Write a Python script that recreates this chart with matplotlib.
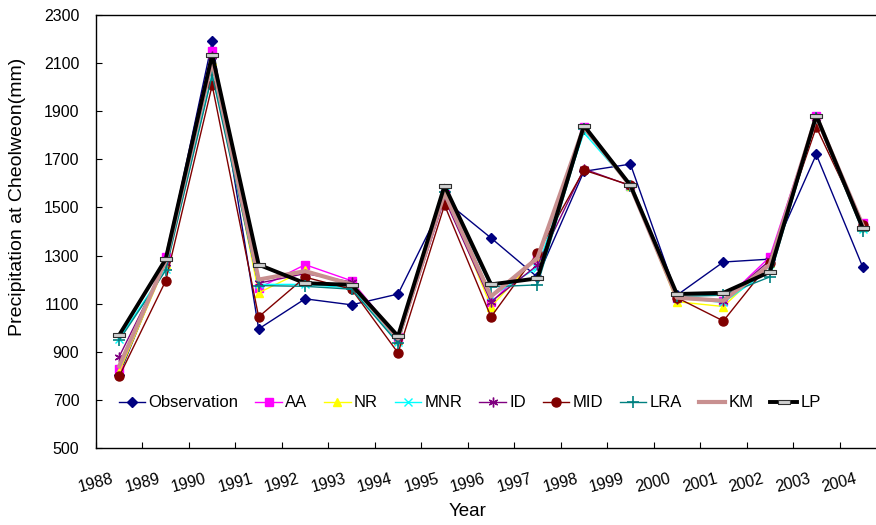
import numpy as np
import matplotlib
matplotlib.use("Agg")
import matplotlib.pyplot as plt

plt.rcParams['font.family'] = ['Liberation Sans', 'DejaVu Sans']

years = ["1988", "1989", "1990", "1991", "1992", "1993", "1994", "1995", "1996",
         "1997", "1998", "1999", "2000", "2001", "2002", "2003", "2004"]

observation = [805, 1280, 2190, 995, 1120, 1095, 1140, 1530, 1373, 1210, 1650, 1680, 1135, 1273, 1285, 1720, 1252]
aa = [830, 1295, 2150, 1165, 1262, 1195, 960, 1555, 1105, 1290, 1835, 1590, 1125, 1110, 1294, 1882, 1435]
nr = [815, 1265, 2110, 1145, 1240, 1175, 950, 1560, 1088, 1295, 1830, 1588, 1108, 1088, 1270, 1875, 1420]
mnr = [955, 1245, 2060, 1180, 1180, 1165, 940, 1565, 1130, 1250, 1810, 1590, 1125, 1105, 1240, 1870, 1410]
id_ = [880, 1270, 2130, 1185, 1225, 1190, 945, 1535, 1108, 1260, 1660, 1590, 1120, 1112, 1280, 1870, 1420]
mid = [798, 1195, 2008, 1045, 1210, 1160, 895, 1510, 1045, 1310, 1655, 1592, 1125, 1028, 1270, 1834, 1425]
lra = [948, 1238, 2050, 1175, 1172, 1160, 935, 1565, 1170, 1178, 1825, 1590, 1130, 1135, 1211, 1870, 1400]
km = [840, 1278, 2110, 1200, 1235, 1180, 955, 1560, 1130, 1290, 1835, 1590, 1125, 1112, 1262, 1878, 1425]
lp = [970, 1285, 2135, 1262, 1185, 1178, 965, 1590, 1180, 1205, 1840, 1592, 1140, 1145, 1232, 1882, 1414]

fig = plt.figure(figsize=(8.76, 5.25), dpi=100)
ax = fig.add_axes([0.1096, 0.1467, 0.9018, 0.8248])

x = np.arange(len(years)) + 0.5
bar = [(-1, -0.3), (1, -0.3), (1, 0.3), (-1, 0.3), (-1, -0.3)]

ax.plot(x, observation, color='#000080', lw=1, marker='D', ms=5.5, label='Observation')
ax.plot(x, aa, color='#FF00FF', lw=1, marker='s', ms=6, label='AA')
ax.plot(x, nr, color='#FFFF00', lw=1, marker='^', ms=6, label='NR')
ax.plot(x, mnr, color='#00FFFF', lw=1, marker='x', ms=6, label='MNR')
ax.plot(x, id_, color='#800080', lw=1, marker=(6, 2, 0), ms=7, label='ID')
ax.plot(x, mid, color='#800000', lw=1, marker='o', ms=6.5, label='MID')
ax.plot(x, lra, color='#008080', lw=1, marker='+', ms=8, mew=1.2, label='LRA')
ax.plot(x, km, color='#C89090', lw=3, label='KM')
ax.plot(x, lp, color='black', lw=2.8, marker=bar, ms=9, mfc='#D0D0D0', mec='#303030', mew=0.8, label='LP')

ax.set_xlim(0, 17)
ax.set_ylim(500, 2300)
ax.set_yticks(np.arange(500, 2301, 200))
ax.set_xticks(np.arange(len(years)))
ax.set_xticklabels(years, rotation=15, ha='center', va='top')
ax.tick_params(axis='both', direction='in', length=4, labelsize=11.5, colors='black')
ax.tick_params(axis='x', pad=17)
ax.tick_params(axis='y', pad=12)
for s in ax.spines.values():
    s.set_linewidth(1)

fig.text(468 / 876, 1 - 512 / 525, 'Year', fontsize=13.5, ha='center', va='center')
fig.text(18 / 876, 1 - 197 / 525, 'Precipitation at Cheolweon(mm)', fontsize=14,
         rotation=90, ha='center', va='center')

ax.legend(loc='center', bbox_to_anchor=(0.473, 0.104), ncol=9, frameon=False,
          fontsize=12, handlelength=1.6, handletextpad=0.2, columnspacing=1.0)

fig.savefig('out.png', dpi=100)
